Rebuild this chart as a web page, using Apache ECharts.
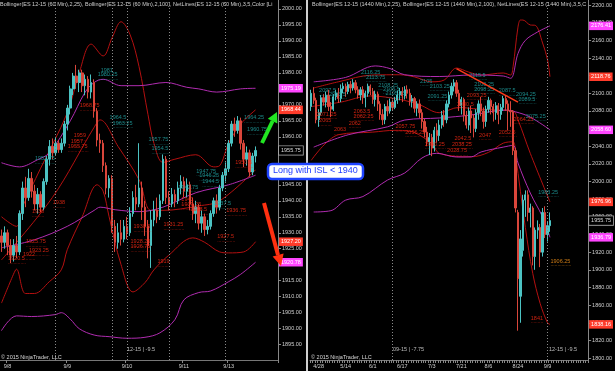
<!DOCTYPE html>
<html><head><meta charset="utf-8">
<script src="https://cdn.jsdelivr.net/npm/echarts@6/dist/echarts.min.js"></script>
<style>html,body{margin:0;padding:0;background:#000;}#c{width:615px;height:371px;}</style>
</head><body><div id="c"></div>
<script>
// ---------- DATA ----------
// Left panel: ES 12-15 60 Min bars [open, close, low, high]
const leftBars = [
[1929,1927,1924,1931],[1927,1930,1925,1932],[1930,1926,1923,1931],[1926,1923,1920.5,1928],[1923,1926,1921,1928],
[1926,1924,1922,1929],[1924,1936,1923,1937],[1936,1944,1934,1946],[1944,1941,1938,1947.5],[1941,1947,1940,1950],
[1947,1943,1941,1949],[1943,1939,1937,1945],[1939,1942,1936,1944],[1942,1938,1936.5,1943],[1938,1946,1937,1947],
[1946,1953,1945,1954],[1953,1957,1951,1959],[1957,1955,1953,1959.5],[1955,1958,1954,1960],[1958,1956,1955,1959],
[1956,1958,1955,1959.5],[1958,1964,1957,1965],[1964,1969,1962,1970],[1969,1975,1967,1976],[1975,1979,1973,1980],
[1979,1977,1975,1982.5],[1977,1980,1974,1981],[1980,1976,1974,1981],[1976,1978,1973,1979.5],[1978,1974,1972,1979],
[1974,1977,1972,1979.5],[1977,1968,1966,1978],[1968,1959,1957,1969],[1959,1958,1955,1961],[1958,1951,1949,1959],
[1951,1944,1942,1952],[1944,1947,1941,1948],[1947,1932,1930,1948],[1932,1927,1924,1934],[1927,1930,1925,1933],
[1930,1928,1926,1934],[1928,1932,1927,1934],[1932,1930,1928,1935],[1930,1936,1929,1938],[1936,1941,1935,1943],
[1941,1939,1937,1945],[1939,1944,1938,1958],[1944,1938,1934,1946],[1938,1932,1929,1940],[1932,1926,1922,1934],
[1926,1934,1919,1937],[1934,1937,1932,1940],[1937,1935,1933,1941],[1935,1940,1934,1942],[1940,1953,1939,1954.5],
[1953,1941,1939,1954],[1941,1939,1937,1943],[1939,1942,1938,1944],[1942,1940,1938,1943.5],[1940,1944,1939,1946],
[1944,1946,1942,1948],[1946,1943,1941,1947.5],[1943,1945,1941,1947],[1945,1939,1937,1946],[1939,1936,1934,1941],
[1936,1938,1933,1940],[1938,1933,1931,1939],[1933,1935,1930,1937],[1935,1931,1929,1936],[1931,1932,1929.5,1934],
[1932,1936,1931,1937],[1936,1940,1935,1941],[1940,1938,1936,1942],[1938,1944,1937,1945],[1944,1948,1943,1949],
[1948,1950,1946,1952],[1950,1958,1949,1959],[1958,1964,1957,1965],[1964,1962,1960,1966],[1962,1965,1961,1966.5],
[1965,1958,1956,1966],[1958,1953,1950.5,1959],[1953,1955,1951,1957],[1955,1949,1947.5,1956],[1949,1954,1948,1955],
[1954,1955.75,1952,1957]
];
// Right panel: ES 12-15 1440 Min (daily) bars [open, close, low, high]
const rightBars = [
[2085,2100,2080,2104],[2100,2092,2088,2107],[2092,2070,2066,2095],[2070,2078,2062,2082],[2078,2095,2075,2098],
[2095,2090,2086,2099],[2090,2098,2084,2102],[2098,2085,2080,2104],[2085,2082,2073,2090],[2082,2096,2080,2099],
[2096,2100,2092,2104],[2100,2094,2089,2106],[2094,2105,2090,2110],[2105,2108,2100,2112],[2108,2102,2096,2111],
[2102,2110,2099,2113],[2110,2106,2100,2114],[2106,2112,2103,2116],[2112,2104,2100,2115],[2104,2098,2094,2108],
[2098,2104,2092,2107],[2104,2095,2088,2108],[2095,2100,2084,2103],[2100,2108,2096,2111],[2108,2102,2098,2110],
[2102,2093,2088,2106],[2093,2099,2085,2103],[2099,2088,2080,2102],[2088,2076,2070,2091],[2076,2070,2064,2082],
[2070,2085,2065,2088],[2085,2080,2074,2092],[2080,2090,2077,2094],[2090,2084,2080,2093],[2084,2092,2082,2096],
[2092,2098,2088,2103],[2098,2102,2092,2106],[2102,2097,2090,2107],[2097,2104,2093,2108],[2104,2100,2094,2109],
[2100,2091,2086,2105],[2091,2094,2084,2098],[2094,2083,2078,2096],[2083,2088,2074,2091],[2088,2078,2072,2093],
[2078,2068,2060,2082],[2068,2056,2050,2071],[2056,2045,2040,2062],[2045,2050,2030,2055],[2050,2038,2028.75,2054],
[2038,2058,2034,2062],[2058,2052,2044,2066],[2052,2064,2046,2070],[2064,2075,2060,2080],[2075,2070,2062,2081],
[2070,2088,2066,2092],[2088,2098,2084,2102],[2098,2108,2094,2112],[2108,2112,2102,2116],[2112,2100,2096,2115],
[2100,2086,2080,2104],[2086,2093,2076,2096],[2093,2075,2068,2095],[2075,2064,2060,2080],[2064,2080,2058,2084],
[2080,2072,2055,2086],[2072,2060,2050,2076],[2060,2078,2056,2082],[2078,2088,2070,2092],[2088,2080,2074,2096],
[2080,2068,2060,2084],[2068,2082,2062,2086],[2082,2092,2078,2096],[2092,2085,2076,2094],[2085,2078,2068,2088],
[2078,2086,2070,2090],[2086,2076,2065,2089],[2076,2084,2070,2088],[2084,2094,2080,2097],[2094,2088,2080,2098],
[2088,2080,2058,2092],[2080,2079,2062,2091],[2079,2035,2030,2081],[2035,1970,1965,2038],[1965,1890,1831,1968],
[1870,1935,1840,1945],[1922,1979,1915,1985],[1979,1985,1960,1990],[1985,1965,1955,1990],[1965,1970,1948,1975],
[1970,1915,1905,1972],[1915,1945,1900,1948],[1945,1948,1935,1956],[1948,1920,1903,1952],[1920,1965,1915,1970],
[1965,1940,1936,1972],[1940,1950,1932,1955],[1950,1955.75,1943,1965]
];
const leftSlots = 93, rightSlots = 113;

// tick labels
const leftDates = [[2,'9/8'],[22,'9/9'],[42,'9/10'],[61,'9/11'],[76,'9/13']];
const rightDates = [[3,'4/28'],[14,'5/14'],[25,'6/1'],[37,'6/17'],[49,'7/3'],[61,'7/21'],[72,'8/6'],[84,'8/24'],[96,'9/9']];
const leftYTicks = [1895,1900,1905,1910,1915,1920,1925,1930,1935,1940,1945,1950,1955,1960,1965,1970,1975,1980,1985,1990,1995,2000];
const rightYTicks = [1800,1820,1840,1860,1880,1900,1920,1940,1960,1980,2000,2020,2040,2060,2080,2100,2120,2140,2160,2180,2200];
const leftSessions = [18,37,42,56,75];
const rightSessions = [33,96];

// Bollinger (2,25) and (2,100) control points [barIndex, value]
const lBB25Up  = [[0,1935],[5,1932],[7,1938],[13,1950],[22,1967.5],[26,1980],[30,1989],[34,1985.3],[37,1991],[40,1996],[43,1992],[46,1982],[49,1967],[51,1958],[54,1952],[58,1953],[65,1954.4],[71,1950.6],[73,1951],[76,1958],[80,1964],[85,1968.44]];
const lBB25Mid = [[0,1921.5],[17,1941],[31,1963],[33,1965.3],[39,1957],[46,1946.6],[50,1937],[54,1937],[66,1938.4],[73,1940],[85,1949.7]];
const lBB25Low = [[0,1908],[4,1917],[5,1918.6],[8,1911],[11,1911],[16,1914.7],[20,1918.4],[22,1924.7],[27,1935],[32,1945],[34,1943],[36,1935],[40,1920],[44,1911.5],[48,1914.4],[51,1918.4],[56,1923],[64,1928.4],[68,1927],[73,1924],[76,1923.7],[81,1924],[85,1927.2]];
const lBB100Up  = [[0,1951.9],[6,1950.6],[12,1952.8],[16,1955],[23,1965],[28,1974],[31,1977],[34,1978],[40,1976],[46,1976],[55,1977],[62,1975.5],[66,1975],[72,1974],[80,1975],[85,1975.19]];
const lBB100Mid = [[0,1925.3],[11,1927.8],[22,1932],[31,1937],[33,1938],[38,1937.2],[46,1936.6],[54,1938],[65,1942.5],[76,1945],[85,1948]];
const lBB100Low = [[0,1899.4],[5,1904],[10,1903.8],[18,1904.4],[20,1905],[23,1903],[26,1900],[31,1898],[36,1897.5],[42,1897],[48,1897.3],[53,1898.7],[58,1902.8],[61,1909],[66,1911.3],[70,1911.8],[76,1914.7],[80,1917],[85,1920.78]];

const rBB25Up  = [[1,2106],[11,2113],[25,2120.7],[36,2121],[42,2118.5],[49,2113],[54,2115],[59,2128.6],[64,2124],[69,2120.7],[78,2123],[81,2120.7],[82,2130],[84,2175],[85,2183],[86,2183],[89,2177.4],[91,2177],[94,2157],[96,2138],[97,2118.76]];
const rBB25Mid = [[0,2085],[12,2090],[24,2097],[36,2093],[44,2087],[52,2078],[60,2084],[68,2082],[76,2081],[82,2080],[84,2070],[89,2032],[97,1976.96]];
const rBB25Low = [[0,2024],[11,2053],[25,2056],[34,2058],[40,2057],[49,2043],[52,2032],[65,2028],[72,2033],[78,2043.5],[82,2045],[83,2030],[87,1948],[90,1896],[93,1862],[96,1840],[97,1838.16]];
const rBB100Up  = [[1,2113],[14,2118],[26,2131],[32,2128],[38,2121],[52,2119],[65,2120.7],[78,2119.6],[81,2117],[84,2145],[87,2160],[92,2169.5],[97,2176.41]];
const rBB100Mid = [[1,2039],[15,2053],[31,2062],[38,2069.7],[52,2072],[65,2075.4],[79,2081],[83,2079],[89,2073],[97,2058.6]];
const rBB100Low = [[1,1965.5],[8,1967],[14,1979],[21,1983],[31,2001.7],[38,2009.7],[45,2026.7],[51,2032],[59,2027.8],[65,2028],[69,2033.5],[78,2039],[82,2041],[84,2021],[89,1987],[94,1959.8],[97,1936.79]];

// price chips on the axes [value, kind]
const leftChips  = [[1975.19,'m'],[1968.44,'r'],[1955.75,'b'],[1927.20,'r'],[1920.78,'m']];
const rightChips = [[2176.41,'m'],[2118.76,'r'],[2058.60,'m'],[1976.96,'r'],[1955.75,'b'],[1936.79,'m'],[1838.16,'r']];

// NetLines level labels [barIndex, value, text]
const lNotesCyan = [[33,1980.3,'1981'],[32,1979.1,'1980.25'],[36,1965.6,'1964.5'],[37,1964.0,'1963.25'],[11,1952.8,'1952.75'],[49,1958.75,'1957.75'],[50,1956,'1954.5'],[65,1949,'1947.75'],[66,1947.5,'1946.25'],[67,1945.6,'1944.5'],[59,1944,'1942.75'],[71,1938.75,'1937.5'],[81,1965.6,'1964.25'],[82,1961.9,'1960.75']];
const lNotesRed = [[26,1969.4,'1968.75'],[24,1960,'1959'],[23,1958.1,'1957'],[22,1956.6,'1955.75'],[17,1939,'1938'],[10,1936.25,'1936'],[8,1926.9,'1925.75'],[9,1924,'1923.25'],[7,1922.8,'1922'],[2,1921.6,'1920.5'],[44,1931.6,'1930.5'],[43,1926.9,'1928.25'],[43,1925.3,'1926.75'],[54,1932.2,'1931.25'],[52,1920.6,'1919'],[60,1940,'1941'],[60,1938.4,'1939.25'],[63,1936.9,'1938.5'],[75,1936.6,'1936.75'],[72,1928.4,'1927.5'],[78,1951.6,'1950.5']];
const rNotesCyan = [[20,2123,'2116.25'],[22,2117.3,'2113.75'],[3,2101.5,'2097.5'],[7,2098,'2093.5'],[27,2108.2,'2108.25'],[29,2103.7,'2106.5'],[30,2099.2,'2105.25'],[44,2112.8,'2105'],[48,2107.1,'2103.25'],[47,2095.8,'2091.25'],[64,2119.6,'2115.5'],[66,2109.4,'2100.25'],[66,2103.7,'2098.25'],[76,2101.5,'2087.5'],[83,2098,'2094.25'],[84,2092.4,'2089.5'],[87,2073,'2075.25'],[92,1987,'1983.25']];
const rNotesRed = [[2,2075.4,'2071.25'],[3,2067.5,'2065'],[17,2078.8,'2063.5'],[17,2073,'2062.25'],[15,2065.2,'2062'],[9,2057.3,'2063'],[34,2060.7,'2057.75'],[38,2055,'2056.25'],[46,2041.4,'2040.25'],[58,2048.2,'2042.5'],[57,2041.4,'2038.25'],[55,2033.5,'2028.75'],[68,2051.6,'2047'],[76,2055,'2052.5'],[63,2096.9,'2093.25'],[59,2086.7,'2080.5'],[82,2069.7,'2064.25'],[89,1844.2,'1841']];
const rNotesOrange = [[97,1908.8,'1906.25']];
// drawn trend line on daily chart [barIndex, value]
const rTrend = [[59,2128],[84,2090]];

// ---------- STYLE / BUILD ----------
const FONT = 'Liberation Sans, Arial, sans-serif';
const UP = '#4cc3c3', DN = '#d9463b';
const RED_BAND = '#b41010', MAG_BAND = '#b02cb0';
const NONE = 'rgba(0,0,0,0)';
const slots = n => Array.from({length:n}, (_, i) => String(i));

function xAxisFor(gridIndex, n, dates, allTicks) {
  const map = new Map(dates);
  return {
    type:'category', gridIndex, data: slots(n), boundaryGap:true,
    axisLine:{show:true, lineStyle:{color:'#777', width:1}},
    axisTick:{show:true, length:3, lineStyle:{color:'#888'}, interval: allTicks ? 0 : (i => map.has(i))},
    axisLabel:{show:true, interval: i => map.has(i), formatter:(v, i) => map.get(i) || '',
      color:'#cfcfcf', fontSize:5.5, fontFamily:FONT, margin:3},
    splitLine:{show:false}
  };
}
function yAxisFor(gridIndex, min, max, ticks) {
  return {
    type:'value', gridIndex, position:'right', min, max,
    axisLine:{show:true, lineStyle:{color:'#888', width:1}},
    axisTick:{show:true, length:3, customValues:ticks, lineStyle:{color:'#888'}},
    axisLabel:{show:true, customValues:ticks, formatter:v => Number(v).toFixed(2),
      color:'#cfcfcf', fontSize:5.5, fontFamily:FONT, margin:4},
    splitLine:{show:false}
  };
}
function bandLine(data, color, xi, yi) {
  return {type:'line', xAxisIndex:xi, yAxisIndex:yi, data, smooth:0.35, showSymbol:false, silent:true,
    lineStyle:{color, width:1}, z:3};
}
function chipItem(c) {
  const kind = c[1];
  const bg = kind === 'm' ? '#ff45ff' : kind === 'r' ? '#ff3b2a' : '#000';
  return {yAxis:c[0], lineStyle:{color:NONE, width:1, type:'solid'},
    label:{show:true, position:'end', distance:1, formatter:c[0].toFixed(2), fontSize:5.5, fontFamily:FONT,
      color: kind === 'b' ? '#ddd' : '#fff', backgroundColor:bg, padding:[1.5,2,1,2],
      borderColor: kind === 'b' ? '#aaa' : bg, borderWidth: kind === 'b' ? 0.8 : 0}};
}
function sessionItem(i) {
  return {xAxis:i, lineStyle:{color:'#8a8a8a', type:[1,2], width:1}, label:{show:false}};
}
function notes(data, color, xi, yi) {
  return {type:'scatter', xAxisIndex:xi, yAxisIndex:yi, data, symbolSize:1, silent:true, z:6,
    itemStyle:{color:NONE},
    label:{show:true, position:'right', distance:0,
      formatter: p => '{t|' + p.value[2] + '}\n{d|' + '.'.repeat(Math.round(p.value[2].length * 2.2)) + '}',
      rich:{t:{fontSize:5.5, fontFamily:FONT, color, lineHeight:6},
            d:{fontSize:5, fontFamily:FONT, color, lineHeight:2}}}};
}
function candles(data, xi, yi, chips, sessions, extra) {
  return {type:'candlestick', xAxisIndex:xi, yAxisIndex:yi, data, barWidth:'70%', silent:true, z:4,
    itemStyle:{color:UP, color0:DN, borderColor:UP, borderColor0:DN, borderWidth:1},
    markLine:{silent:true, symbol:['none','none'], animation:false, precision:2, z:8,
      data: chips.map(chipItem).concat(sessions.map(sessionItem)).concat(extra || [])}};
}

const trendItem = [{coord:rTrend[0], symbol:'none', lineStyle:{color:'#ff3a1a', width:1.5, type:'solid'}, label:{show:false}},
                   {coord:rTrend[1], symbol:'none'}];

const chart = echarts.init(document.getElementById('c'), null, {renderer:'canvas'});
chart.setOption({
  backgroundColor:'#000',
  animation:false,
  title:[
    {text:'Bollinger(ES 12-15 (60 Min),2,25), Bollinger(ES 12-15 (60 Min),2,100), NetLines(ES 12-15 (60 Min),3,5,Color [Lime],Color [Red]',
     left:0, top:1, padding:0, textStyle:{color:'#cfcfcf', fontSize:5.5, fontWeight:'normal', fontFamily:FONT, width:277, overflow:'truncate', ellipsis:''}},
    {text:'Bollinger(ES 12-15 (1440 Min),2,25), Bollinger(ES 12-15 (1440 Min),2,100), NetLines(ES 12-15 (1440 Min),3,5,Color [Lime],Color [Red]',
     left:312, top:1, padding:0, textStyle:{color:'#cfcfcf', fontSize:5.5, fontWeight:'normal', fontFamily:FONT, width:276, overflow:'truncate', ellipsis:''}}
  ],
  grid:[
    {left:0, top:0, width:278, height:360},
    {left:310, top:0, width:279, height:360}
  ],
  xAxis:[xAxisFor(0, leftSlots, leftDates, false), xAxisFor(1, rightSlots, rightDates, true)],
  yAxis:[yAxisFor(0, 1890.2, 2002.8, leftYTicks), yAxisFor(1, 1797.8, 2205.7, rightYTicks)],
  series:[
    bandLine(lBB25Up, RED_BAND, 0, 0), bandLine(lBB25Mid, RED_BAND, 0, 0), bandLine(lBB25Low, RED_BAND, 0, 0),
    bandLine(lBB100Up, MAG_BAND, 0, 0), bandLine(lBB100Mid, MAG_BAND, 0, 0), bandLine(lBB100Low, MAG_BAND, 0, 0),
    candles(leftBars, 0, 0, leftChips, leftSessions),
    notes(lNotesCyan, '#22a9a9', 0, 0), notes(lNotesRed, '#ff2a14', 0, 0),
    bandLine(rBB25Up, RED_BAND, 1, 1), bandLine(rBB25Mid, RED_BAND, 1, 1), bandLine(rBB25Low, RED_BAND, 1, 1),
    bandLine(rBB100Up, MAG_BAND, 1, 1), bandLine(rBB100Mid, MAG_BAND, 1, 1), bandLine(rBB100Low, MAG_BAND, 1, 1),
    candles(rightBars, 1, 1, rightChips, rightSessions, [trendItem]),
    notes(rNotesCyan, '#22a9a9', 1, 1), notes(rNotesRed, '#ff2a14', 1, 1), notes(rNotesOrange, '#ff9a1a', 1, 1)
  ],
  graphic:[
    {type:'rect', left:306, top:0, shape:{width:2, height:371}, style:{fill:'#cfcfcf'}, z:50},
    {type:'text', left:1, top:354, style:{text:'© 2015 NinjaTrader, LLC', fill:'#d8d8d8', font:'5.5px ' + FONT}, z:50},
    {type:'text', left:311, top:354, style:{text:'© 2015 NinjaTrader, LLC', fill:'#d8d8d8', font:'5.5px ' + FONT}, z:50},
    {type:'text', left:127, top:346, style:{text:'12-15 | -9.5', fill:'#bdbdbd', font:'5.5px ' + FONT}, z:50},
    {type:'text', left:393, top:346, style:{text:'09-15 | -7.75', fill:'#bdbdbd', font:'5.5px ' + FONT}, z:50},
    {type:'text', left:549, top:346, style:{text:'12-15 | -9.5', fill:'#bdbdbd', font:'5.5px ' + FONT}, z:50},
    // green arrow
    {type:'line', shape:{x1:262, y1:143, x2:272.6, y2:121}, style:{stroke:'#22e622', lineWidth:4}, z:60},
    {type:'polygon', shape:{points:[[277,112],[277.4,123.6],[267.8,118.8]]}, style:{fill:'#22e622'}, z:60},
    // red arrow
    {type:'line', shape:{x1:264, y1:203, x2:278, y2:255}, style:{stroke:'#ff3010', lineWidth:4}, z:60},
    {type:'polygon', shape:{points:[[281,266],[283.6,253.6],[272.6,256.6]]}, style:{fill:'#ff3010'}, z:60},
    // note box
    {type:'rect', shape:{x:268, y:164, width:95, height:15, r:4}, style:{fill:'#fff', stroke:'#1f44ff', lineWidth:2.5}, z:70},
    {type:'text', left:273, top:166.5, style:{text:'Long with ISL < 1940', fill:'#1f3cff', font:'9px ' + FONT}, z:71}
  ]
});
</script>
</body></html>
